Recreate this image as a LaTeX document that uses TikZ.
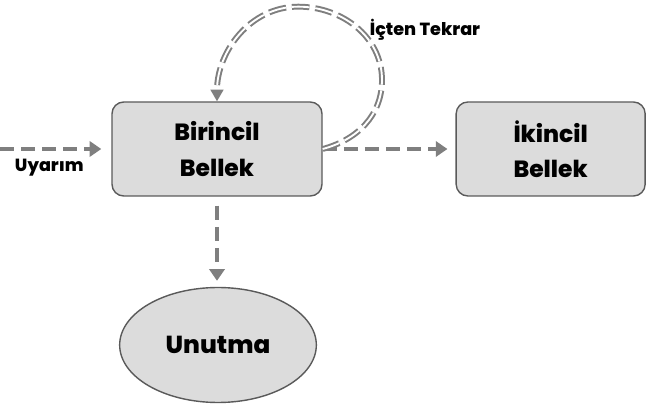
\documentclass[tikz,border=0pt]{standalone}
\usepackage{fontspec}
\setmainfont{Poppins}[BoldFont={Poppins ExtraBold}]
\usepackage{xcolor}
\usetikzlibrary{arrows.meta,shapes.geometric,positioning}

\definecolor{boxfill}{HTML}{DCDCDC}
\definecolor{boxline}{HTML}{5A5A5A}
\definecolor{flow}{HTML}{7F7F7F}

\tikzset{
	store/.style={
			draw=boxline,
			fill=boxfill,
			line width=1.2pt,
			rounded corners=10pt,
			minimum width=6.3cm,
			minimum height=2.82cm,
			align=center,
			font=\bfseries\fontsize{20}{30}\selectfont
		},
	forget/.style={
			ellipse,
			draw=boxline,
			fill=boxfill,
			line width=1.2pt,
			minimum width=5.9cm,
			minimum height=3.45cm,
			font=\bfseries\fontsize{21}{30}\selectfont
		},
	flowline/.style={
			draw=flow,
			line width=4pt,
			dash pattern=on 12pt off 6pt,
			-{Triangle[length=10pt,width=13pt]}
		},
	rehearse/.style={
			draw=flow,
			double=white,
			double distance=1.6pt,
			line width=1.7pt,
			dash pattern=on 15pt off 5pt,
			-{Triangle[length=10pt,width=11pt,fill=flow]}
		},
	tag/.style={font=\bfseries\fontsize{15}{18}\selectfont}
}

\begin{document}
\begin{tikzpicture}
	\useasboundingbox (0,0) rectangle (19.77,12.15);

	\node[store] at (6.51,7.68) (birincil) {Birincil\\Bellek};
	\node[store, minimum width=5.67cm] at (16.52,7.68) (ikincil) {İkincil\\Bellek};
	\node[forget] at (6.54,1.80) (unutma) {Unutma};

	\coordinate (uyarim) at (0,7.68);
	\coordinate (loopright) at (11.46,9.75);
	\coordinate (looptop) at (8.95,11.95);

	\node[tag] at (1.48,7.12) (uyarimtag) {Uyarım};
	\node[tag] at (12.75,11.25) (tekrartag) {İçten Tekrar};

	% akislar
	\draw[flowline, shorten >=0.3cm] (uyarim) -- (birincil.west);
	\draw[flowline, shorten >=0.24cm] (birincil.east) -- (ikincil.west);
	\draw[flowline, shorten <=0.27cm, shorten >=0.18cm] (birincil.south) -- (birincil.south |- unutma.north);

	% ic tekrar dongusu
	\draw[rehearse] (birincil.east) to[out=15,in=-90] (loopright)
		to[out=90,in=0] (looptop)
		to[out=180,in=90] (birincil.north);
\end{tikzpicture}
\end{document}
